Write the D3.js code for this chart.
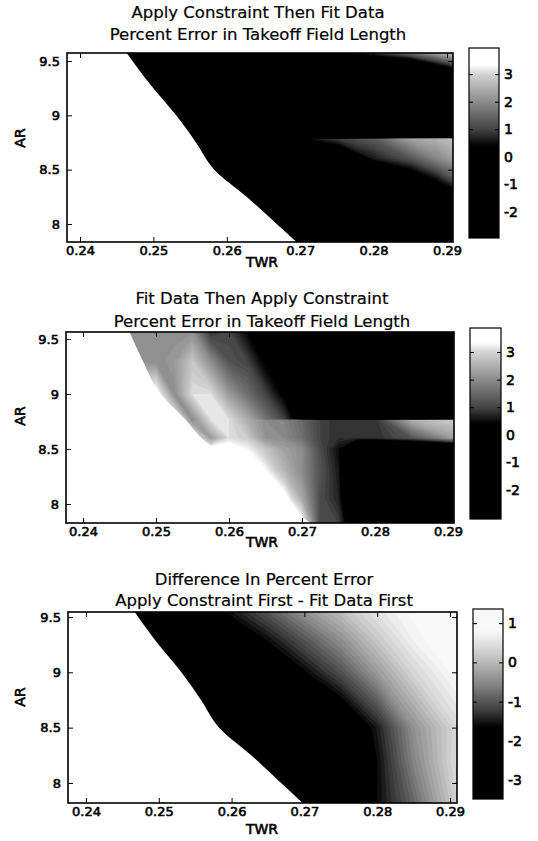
<!DOCTYPE html>
<html>
<head>
<meta charset="utf-8">
<script src="https://cdn.jsdelivr.net/npm/d3@7"></script>
<style>
body { margin: 0; background: #fff; }
svg text { font-family: "DejaVu Sans", sans-serif; fill: #000; }
.tick text { font-size: 13px; stroke: #000; stroke-width: 0.6px; }
.cb .tick text { font-size: 14px; }
.title { font-size: 16.5px; stroke: #000; stroke-width: 0.2px; }
.axlabel { font-size: 14px; stroke: #000; stroke-width: 0.6px; }
</style>
</head>
<body>
<div class="chart"></div>
<script>
// tick values
var twrTicks = [0.24, 0.25, 0.26, 0.27, 0.28, 0.29];
var arTicks = [8, 8.5, 9, 9.5];
var errTicks = [-2, -1, 0, 1, 2, 3];
var diffTicks = [-3, -2, -1, 0, 1];

// edge of the white (infeasible) corner, [TWR, AR]
var constraintEdge = [[0.2462, 9.59], [0.2495, 9.29], [0.2531, 9.0], [0.2558, 8.75], [0.2583, 8.5],
    [0.2627, 8.25], [0.2668, 8.0], [0.2699, 7.81]];
var fitEdge = [[0.2462, 9.59], [0.2482, 9.3], [0.2506, 9.0], [0.2540, 8.77], [0.2562, 8.6],
    [0.2580, 8.5], [0.2620, 8.3], [0.2665, 8.05], [0.2715, 7.81]];

// panel 1: apply constraint then fit data (percent error)
var applyTWR = [0.238, 0.26, 0.27, 0.2725, 0.275, 0.28, 0.285, 0.2885, 0.291];
var applyAR = [7.82, 8.2, 8.4, 8.6, 8.783, 8.787, 9.2, 9.45, 9.58];
var applyErr = [
    [-2, -2, -2, -2, -2, -2, -2, -2, -2],
    [-2, -2, -2, -2, -2, -2, -1.2, -0.8, -0.5],
    [-2, -2, -2, -2, -2, -1.5, -0.4, 0.4, 1.1],
    [-2, -2, -2, -1.5, -0.8, 0.6, 1.2, 1.9, 2.3],
    [-2, -2, 0.2, 0.7, 0.9, 1.3, 2.3, 2.5, 2.7],
    [-2, -2, -2, -2, -2, -2, -2, -2, -2],
    [-2, -2, -2, -2, -2, -2, -2, -2, -2],
    [-2, -2, -2, -2, -2, -1.5, -1, 0.1, 0.8],
    [-2, -2, -1, -0.2, 0.4, 1.0, 1.7, 2.4, 2.9]
];

// panel 2: fit data then apply constraint (percent error)
var fitTWR = [0.238, 0.245, 0.25, 0.2525, 0.255, 0.2575, 0.26, 0.2625, 0.265, 0.2675, 0.27, 0.2725,
    0.275, 0.2775, 0.28, 0.285, 0.291];
var fitAR = [7.82, 8.05, 8.3, 8.5, 8.6, 8.763, 8.767, 9.0, 9.3, 9.58];
var fitErr = [
    [3.6, 3.6, 3.6, 3.6, 3.6, 3.6, 3.6, 3.6, 3.6, 3.6, 3.6, 1.0, 1.0, -0.5, -1.5, -1.5, -1.5],
    [3.6, 3.6, 3.6, 3.6, 3.6, 3.6, 3.6, 3.6, 3.6, 3.6, 2.4, 1.1, 0.7, -1.2, -1.5, -1.5, -1.5],
    [3.6, 3.6, 3.6, 3.6, 3.6, 3.6, 3.6, 3.6, 3.35, 2.6, 2.0, 1.2, 0.6, -1.2, -1.5, -1.5, -1.5],
    [3.6, 3.6, 3.6, 3.6, 3.6, 3.6, 3.6, 3.3, 2.8, 2.3, 2.0, 1.1, 0.5, -1.0, -1.5, -1.5, -1.5],
    [3.6, 3.6, 3.6, 3.6, 3.6, 2.2, 3.1, 2.9, 2.1, 2.0, 1.6, 1.0, 0.8, 0.8, 0.8, 1.2, 2.3],
    [3.6, 3.6, 3.6, 3.6, 2.0, 3.1, 3.1, 2.45, 2.0, 1.9, 1.5, 1.0, 0.8, 0.8, 0.8, 2.5, 2.9],
    [3.6, 3.6, 3.6, 3.6, 2.0, 3.1, 3.1, 2.45, 1.7, 1.0, -0.06, -1.5, -1.5, -1.5, -1.5, -1.5, -1.5],
    [3.6, 3.6, 3.6, 2.0, 3.1, 3.1, 2.2, 1.6, 1.0, 0.31, -1.5, -1.5, -1.5, -1.5, -1.5, -1.5, -1.5],
    [2.0, 2.0, 2.0, 2.2, 2.8, 2.0, 1.2, 1.0, 0.28, -1.5, -1.5, -1.5, -1.5, -1.5, -1.5, -1.5, -1.5],
    [2.0, 2.0, 2.0, 2.0, 2.0, 0.75, 1.0, 0.37, -1.5, -1.5, -1.5, -1.5, -1.5, -1.5, -1.5, -1.5, -1.5]
];

// panel 3: difference in percent error
var diffTWR = [0.238, 0.245, 0.25, 0.255, 0.26, 0.265, 0.27, 0.275, 0.28, 0.285, 0.291];
var diffAR = [7.81, 8.2, 8.5, 9.0, 9.3, 9.58];
var diffErr = [
    [-3.5, -3.5, -3.5, -3.5, -3.5, -3.5, -3.3, -2.4, -1.6, -0.85, 0.3],
    [-3.5, -3.5, -3.5, -3.5, -3.5, -3.4, -3.1, -2.4, -1.6, -0.55, 0.45],
    [-3.5, -3.5, -3.5, -3.5, -3.5, -3.3, -3.0, -2.3, -1.47, -0.42, 0.4],
    [-3.5, -3.5, -3.4, -3.1, -2.7, -2.2, -1.64, -1.05, -0.32, 0.35, 0.9],
    [-3.5, -3.4, -3.1, -2.6, -2.05, -1.56, -0.98, -0.42, 0.2, 0.72, 1.05],
    [-3.5, -3.3, -2.6, -1.97, -1.43, -0.89, -0.33, 0.13, 0.57, 0.88, 1.2]
];

var errGray = d3.scaleLinear()
    .domain([0.4, 1.0, 2.0, 3.0, 3.35])
    .range([`#000`, `#444`, `#8c8c8c`, `#d4d4d4`, `#fff`])
    .clamp(true);
var diffGray = d3.scaleLinear()
    .domain([-1.65, -1.25, -0.55, 0.2, 0.8])
    .range([`#000`, `#3a3a3a`, `#858585`, `#cacaca`, `#f8f8f8`])
    .clamp(true);

var panels = [
    {id: 1, title: [`Apply Constraint Then Fit Data`, `Percent Error in Takeoff Field Length`],
     twr: applyTWR, ar: applyAR, z: applyErr, edge: constraintEdge, color: errGray,
     left: 67, right: 453, top: 53, bottom: 242, xDom: [0.23823, 0.29082], yDom: [7.834, 9.574],
     cbX: 469, cbW: 30, cbTop: 48, cbBottom: 238, cbDom: [-2.95, 3.95], cbTicks: errTicks,
     titleX: 258, titleY: [18, 40], arY: 138, twrY: 267},
    {id: 2, title: [`Fit Data Then Apply Constraint`, `Percent Error in Takeoff Field Length`],
     twr: fitTWR, ar: fitAR, z: fitErr, edge: fitEdge, color: errGray,
     left: 66, right: 454, top: 332, bottom: 523, xDom: [0.23767, 0.29082], yDom: [7.827, 9.5636],
     cbX: 470, cbW: 31, cbTop: 328, cbBottom: 519, cbDom: [-3.05, 3.87], cbTicks: errTicks,
     titleX: 262, titleY: [304, 327], arY: 416, twrY: 547},
    {id: 3, title: [`Difference In Percent Error`, `Apply Constraint First - Fit Data First`],
     twr: diffTWR, ar: diffAR, z: diffErr, edge: constraintEdge, color: diffGray,
     left: 68, right: 457, top: 612, bottom: 803, xDom: [0.23753, 0.29096], yDom: [7.819, 9.545],
     cbX: 473, cbW: 30, cbTop: 609, cbBottom: 799, cbDom: [-3.48, 1.36], cbTicks: diffTicks,
     titleX: 264, titleY: [585, 606], arY: 697, twrY: 834}
];

var svg = d3.select(`.chart`)
    .append(`svg`)
    .attr(`width`, 538)
    .attr(`height`, 841);
var defs = svg.append(`defs`);

var thresholds = d3.range(-40, 41).map(d => d / 10);

panels.forEach(p => {
    var x = d3.scaleLinear().domain(p.xDom).range([p.left, p.right]);
    var y = d3.scaleLinear().domain(p.yDom).range([p.bottom, p.top]);
    var g = svg.append(`g`);

    defs.append(`clipPath`)
        .attr(`id`, `clip${p.id}`)
        .append(`rect`)
        .attr(`x`, p.left).attr(`y`, p.top)
        .attr(`width`, p.right - p.left).attr(`height`, p.bottom - p.top);
    var plot = g.append(`g`).attr(`clip-path`, `url(#clip${p.id})`);

    // grid index -> data coordinate (grid is not evenly spaced)
    var colPos = d3.scaleLinear().domain(p.twr.map((d, i) => i + 0.5)).range(p.twr).clamp(true);
    var rowPos = d3.scaleLinear().domain(p.ar.map((d, i) => i + 0.5)).range(p.ar).clamp(true);
    var ring = d3.line()
        .x(pt => x(colPos(pt[0])))
        .y(pt => y(rowPos(pt[1])));
    var shape = d => d.coordinates
        .map(poly => poly.map(r => ring(r) + `Z`).join(``))
        .join(``);

    var contours = d3.contours()
        .size([p.twr.length, p.ar.length])
        .thresholds(thresholds)([].concat(...p.z));

    plot.selectAll(`.band`)
        .data(contours.filter(d => d.coordinates.length))
        .enter()
        .append(`path`)
        .attr(`class`, `band`)
        .attr(`d`, shape)
        .attr(`fill-rule`, `evenodd`)
        .attr(`fill`, d => p.color(d.value + 0.05));

    var mask = d3.area()
        .curve(d3.curveMonotoneY)
        .y(d => y(d[1]))
        .x0(p.left - 2)
        .x1(d => x(d[0]));
    plot.append(`path`).datum(p.edge).attr(`d`, mask).attr(`fill`, `#fff`);

    g.append(`rect`)
        .attr(`x`, p.left).attr(`y`, p.top)
        .attr(`width`, p.right - p.left).attr(`height`, p.bottom - p.top)
        .attr(`fill`, `none`).attr(`stroke`, `#000`).attr(`stroke-width`, 1.6);

    g.append(`g`)
        .attr(`transform`, `translate(0,${p.bottom})`)
        .call(d3.axisBottom(x).tickValues(twrTicks).tickFormat(d3.format(`.2f`)).tickSize(-5).tickPadding(4))
        .call(a => a.select(`.domain`).remove());
    g.append(`g`)
        .attr(`transform`, `translate(0,${p.top})`)
        .call(d3.axisTop(x).tickValues(twrTicks).tickFormat(``).tickSize(-5))
        .call(a => a.select(`.domain`).remove());
    g.append(`g`)
        .attr(`transform`, `translate(${p.left},0)`)
        .call(d3.axisLeft(y).tickValues(arTicks).tickFormat(d => String(d)).tickSize(-5).tickPadding(7))
        .call(a => a.select(`.domain`).remove());
    g.append(`g`)
        .attr(`transform`, `translate(${p.right},0)`)
        .call(d3.axisRight(y).tickValues(arTicks).tickFormat(``).tickSize(-5))
        .call(a => a.select(`.domain`).remove());

    g.selectAll(`.title`)
        .data(p.title)
        .enter()
        .append(`text`)
        .attr(`class`, `title`)
        .attr(`x`, p.titleX)
        .attr(`y`, (d, i) => p.titleY[i])
        .attr(`text-anchor`, `middle`)
        .text(d => d);

    g.append(`text`)
        .attr(`class`, `axlabel`)
        .attr(`x`, 262).attr(`y`, p.twrY)
        .attr(`text-anchor`, `middle`)
        .text(`TWR`);
    g.append(`text`)
        .attr(`class`, `axlabel`)
        .attr(`transform`, `translate(25,${p.arY}) rotate(-90)`)
        .attr(`text-anchor`, `middle`)
        .text(`AR`);

    // colour bar as a vertical gradient sampled from the same grey scale
    var cy = d3.scaleLinear().domain(p.cbDom).range([p.cbBottom, p.cbTop]);
    var grad = defs.append(`linearGradient`)
        .attr(`id`, `cbg${p.id}`)
        .attr(`x1`, 0).attr(`y1`, 1).attr(`x2`, 0).attr(`y2`, 0);
    var span = p.cbDom[1] - p.cbDom[0];
    grad.selectAll(`stop`)
        .data(d3.range(0, 101).map(i => p.cbDom[0] + span * i / 100))
        .enter()
        .append(`stop`)
        .attr(`offset`, d => (d - p.cbDom[0]) / span)
        .attr(`stop-color`, d => p.color(d));
    var cb = g.append(`g`).attr(`class`, `cb`);
    cb.append(`rect`)
        .attr(`x`, p.cbX).attr(`y`, p.cbTop)
        .attr(`width`, p.cbW).attr(`height`, p.cbBottom - p.cbTop)
        .attr(`fill`, `url(#cbg${p.id})`)
        .attr(`stroke`, `#000`).attr(`stroke-width`, 1.2);
    cb.append(`g`)
        .attr(`transform`, `translate(${p.cbX + p.cbW},0)`)
        .call(d3.axisRight(cy).tickValues(p.cbTicks).tickFormat(d => String(d)).tickSize(-4).tickPadding(5))
        .call(a => a.select(`.domain`).remove());
    cb.append(`g`)
        .attr(`transform`, `translate(${p.cbX},0)`)
        .call(d3.axisLeft(cy).tickValues(p.cbTicks).tickFormat(``).tickSize(-4))
        .call(a => a.select(`.domain`).remove());
});
</script>
</body>
</html>
